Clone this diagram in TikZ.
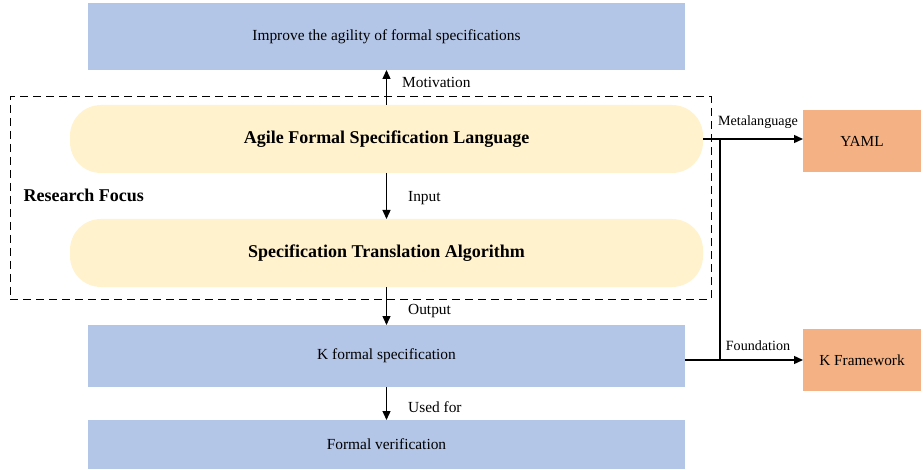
\documentclass[tikz,border=0pt]{standalone}
\usepackage{fontspec}
\setmainfont{Liberation Serif}
\usepackage{tikz}
\usetikzlibrary{arrows.meta}
\usetikzlibrary{positioning}
\definecolor{boxblue}{HTML}{B4C6E7}
\definecolor{pillyellow}{HTML}{FFF2CC}
\definecolor{toolorange}{HTML}{F4B183}
\tikzset{
    goalbox/.style={
           rectangle,
           fill=boxblue,
           minimum width=597pt,
           inner sep=0pt, outer sep=0pt,
           text centered,
           font=\fontsize{15.4}{18}\selectfont,
           },
    focus/.style={
           rectangle,
           rounded corners=31pt,
           fill=pillyellow,
           minimum width=633pt,
           minimum height=68pt,
           inner sep=0pt, outer sep=0pt,
           font=\fontsize{18}{22}\selectfont\bfseries,
           },
    toolbox/.style={
           rectangle,
           fill=toolorange,
           minimum width=118pt,
           minimum height=62pt,
           inner sep=0pt, outer sep=0pt,
           font=\fontsize{15.3}{18}\selectfont,
           },
    lbl/.style={
           anchor=west,
           inner sep=0pt,
           font=\fontsize{15.4}{18}\selectfont,
           },
    sidelbl/.style={
           inner sep=0pt,
           font=\fontsize{14.1}{17}\selectfont,
           },
}

\begin{document}
\begin{tikzpicture}[x=1pt,y=1pt,->,>={Triangle[length=9pt,width=8pt]},line width=1.3pt]

 % page size as in the reference
 \useasboundingbox (0,0) rectangle (923,-470);

 % dashed frame round the research focus
 \node[draw, dashed, dash pattern=on 8pt off 5pt, line width=1pt,
  minimum width=701pt, minimum height=202pt, inner sep=0pt] (FRAME) at (360.5,-198) {};
 \node[anchor=west, inner sep=0pt, font=\fontsize{18}{22}\selectfont\bfseries]
  (RF) at (23,-195) {Research Focus};

 % main column, top to bottom
 \node[goalbox, minimum height=67pt] (GOAL) at (386.5,-36.5)
  {Improve the agility of formal specifications};
 \node[focus, below=35pt of GOAL] (AFSL) {Agile Formal Specification Language};
 \node[focus, below=46pt of AFSL] (STA) {Specification Translation Algorithm};
 \node[goalbox, minimum height=62pt, below=38pt of STA] (KSPEC) {K formal specification};
 \node[goalbox, minimum height=49pt, below=33pt of KSPEC] (FV) {Formal verification};

 % tools on the right
 \node[toolbox] (YAML) at (862,-141) {YAML};
 \node[toolbox] (KFW) at (862,-360) {K Framework};

 % branch point of the two tool lines
 \coordinate (SPLIT) at ([xshift=17pt]AFSL.east);

 % draw the paths and print the labels beside them
 \path
 (AFSL)  edge node[lbl, midway, xshift=15pt, yshift=5.5pt]{Motivation} (GOAL)
 (AFSL)  edge node[lbl, midway, xshift=21pt, yshift=-2pt]{Input} (STA)
 (STA)   edge node[lbl, midway, xshift=21pt, yshift=-5.5pt]{Output} (KSPEC)
 (KSPEC) edge node[lbl, midway, xshift=21pt, yshift=-3.5pt]{Used for} (FV)
 (AFSL.east) edge node[sidelbl, midway, xshift=5pt, yshift=17pt]{Metalanguage} (AFSL.east -| YAML.west)
 (KSPEC.east |- KFW.west) edge node[sidelbl, midway, xshift=14pt, yshift=14pt]{Foundation} (KFW.west)
 (SPLIT) edge[-] (SPLIT |- KFW.west);

\end{tikzpicture}
\end{document}
